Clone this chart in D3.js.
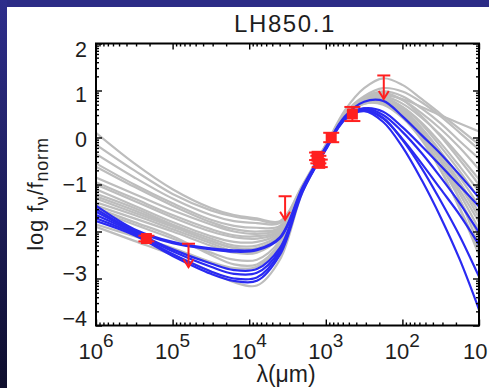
<!DOCTYPE html>
<html>
<head>
<meta charset="utf-8">
<script src="https://cdn.jsdelivr.net/npm/d3@7"></script>
<style>
  html, body { margin: 0; padding: 0; background: #fff; overflow: hidden; }
  text { font-family: "Liberation Sans", Arial, Helvetica, sans-serif; fill: #1e1e1e; }
</style>
</head>
<body>
<svg id="chart" width="489" height="388"></svg>
<script>
// Wavelength grid (micron) on which every model SED is sampled
const WAVELENGTHS = [1e6, 3.16e5, 1e5, 3.16e4, 1.58e4, 7.94e3, 3.98e3, 2.0e3, 1e3, 562, 316, 178, 100, 56.2, 31.6, 17.8, 10];

// Rejected template fits: log f_nu / f_norm on the grid above
const GREY_MODELS = [
  [ 0.10, -0.55, -1.10, -1.50, -1.65, -1.72, -1.78, -1.00, -0.15, 0.50, 0.82, 0.90, 0.82, 0.65, 0.47, 0.30, 0.13],
  [-0.15, -0.70, -1.20, -1.55, -1.68, -1.75, -1.80, -1.02, -0.16, 0.58, 1.05, 1.26, 1.12, 0.82, 0.50, 0.18, -0.15],
  [-0.35, -0.85, -1.30, -1.65, -1.78, -1.82, -1.82, -1.03, -0.17, 0.52, 0.88, 1.05, 0.98, 0.75, 0.45, 0.10, -0.26],
  [-0.55, -1.00, -1.40, -1.75, -1.88, -1.92, -1.88, -1.04, -0.18, 0.50, 0.85, 0.98, 0.88, 0.62, 0.30, -0.08, -0.45],
  [-0.62, -1.05, -1.45, -1.80, -1.95, -2.00, -1.92, -1.05, -0.18, 0.50, 0.82, 0.92, 0.80, 0.52, 0.18, -0.22, -0.68],
  [-0.85, -1.20, -1.55, -1.85, -2.00, -2.05, -1.95, -1.05, -0.19, 0.48, 0.80, 0.88, 0.72, 0.42, 0.05, -0.40, -0.89],
  [-1.00, -1.35, -1.70, -2.00, -2.12, -2.15, -2.00, -1.06, -0.19, 0.50, 0.85, 0.95, 0.80, 0.45, 0.02, -0.48, -1.00],
  [-1.10, -1.45, -1.80, -2.10, -2.22, -2.22, -2.02, -1.07, -0.20, 0.48, 0.78, 0.82, 0.65, 0.32, -0.12, -0.62, -1.15],
  [-1.20, -1.50, -1.85, -2.15, -2.30, -2.30, -2.05, -1.07, -0.20, 0.47, 0.80, 0.85, 0.65, 0.28, -0.20, -0.72, -1.30],
  [-1.30, -1.60, -1.90, -2.20, -2.35, -2.35, -2.08, -1.08, -0.21, 0.46, 0.75, 0.78, 0.58, 0.20, -0.30, -0.85, -1.45],
  [-1.38, -1.65, -1.95, -2.25, -2.42, -2.42, -2.12, -1.08, -0.21, 0.48, 0.80, 0.85, 0.62, 0.20, -0.35, -0.95, -1.60],
  [-1.45, -1.72, -2.00, -2.30, -2.45, -2.45, -2.12, -1.09, -0.22, 0.46, 0.76, 0.78, 0.55, 0.12, -0.42, -1.02, -1.70],
  [-1.55, -1.85, -2.15, -2.45, -2.60, -2.60, -2.20, -1.10, -0.22, 0.45, 0.72, 0.72, 0.48, 0.05, -0.50, -1.12, -1.80],
  [-1.85, -2.10, -2.35, -2.65, -2.78, -2.75, -2.30, -1.12, -0.23, 0.47, 0.78, 0.80, 0.55, 0.10, -0.50, -1.20, -1.95],
  [-1.90, -2.20, -2.50, -2.85, -3.08, -3.15, -2.60, -1.15, -0.24, 0.45, 0.74, 0.74, 0.48, 0.02, -0.60, -1.32, -2.10],
  [-1.25, -1.55, -1.88, -2.20, -2.35, -2.38, -2.10, -1.08, -0.21, 0.46, 0.78, 0.85, 0.62, 0.15, -0.50, -1.32, -2.30],
  [-0.95, -1.30, -1.65, -1.95, -2.08, -2.10, -1.98, -1.05, -0.19, 0.44, 0.72, 0.70, 0.42, -0.05, -0.70, -1.50, -2.40],
  [-1.50, -1.80, -2.10, -2.50, -2.70, -2.70, -2.25, -1.10, -0.22, 0.45, 0.75, 0.76, 0.50, 0.00, -0.68, -1.52, -2.50]
];

// Accepted template fits
const BLUE_MODELS = [
  [-1.45, -1.95, -2.22, -2.36, -2.40, -2.38, -2.12, -1.05, -0.20, 0.45, 0.76, 0.78, 0.45, 0.05, -0.35, -0.80, -1.28],
  [-1.52, -1.98, -2.25, -2.38, -2.43, -2.40, -2.15, -1.08, -0.22, 0.42, 0.62, 0.55, 0.22, -0.18, -0.60, -1.03, -1.47],
  [-1.58, -2.00, -2.38, -2.68, -2.82, -2.80, -2.35, -1.10, -0.22, 0.42, 0.62, 0.48, 0.12, -0.33, -0.85, -1.40, -2.02],
  [-1.65, -2.02, -2.42, -2.75, -2.90, -2.88, -2.40, -1.12, -0.24, 0.40, 0.58, 0.40, -0.03, -0.55, -1.10, -1.65, -2.28],
  [-1.72, -2.05, -2.48, -2.85, -3.00, -2.98, -2.45, -1.12, -0.25, 0.40, 0.60, 0.42, -0.05, -0.65, -1.35, -2.10, -2.96],
  [-1.78, -2.08, -2.52, -2.90, -3.05, -3.05, -2.50, -1.15, -0.26, 0.38, 0.56, 0.33, -0.20, -0.90, -1.70, -2.60, -3.66]
];

// Photometry: wavelength (micron), log flux, 1-sigma error
const DET_WL  = [2.2e5, 1.3e3, 1.25e3, 1.2e3, 850, 450];
const DET_VAL = [-2.15, -0.40, -0.47, -0.55, 0.0, 0.50];
const DET_ERR = [0.06, 0.08, 0.08, 0.08, 0.10, 0.15];

// Upper limits: wavelength (micron), log flux
const UL_WL  = [6.2e4, 3.4e3, 175];
const UL_VAL = [-2.26, -1.25, 1.32];

// Axis ticks; the last label sits on the page edge and is shown without its exponent
const X_TICKS = [1e6, 1e5, 1e4, 1e3, 1e2, 1e1];
const X_TICK_EXP = ["6", "5", "4", "3", "2", ""];
const Y_TICKS = [2, 1, 0, -1, -2, -3, -4];

const svg = d3.select("#chart");
const W = 489, H = 388;

// slide background: white panel with a dark-blue frame on top and left
const defs = svg.append("defs");
const grad = defs.append("linearGradient").attr("id", "edge").attr("x1", 0).attr("y1", 0).attr("x2", 0).attr("y2", 1);
grad.append("stop").attr("offset", "0%").attr("stop-color", "#2e2e8c");
grad.append("stop").attr("offset", "100%").attr("stop-color", "#0e0e2c");
svg.append("rect").attr("width", W).attr("height", H).attr("fill", "#ffffff");
svg.append("rect").attr("x", 0).attr("y", 0).attr("width", W).attr("height", 7).attr("fill", "#2c2c86");
svg.append("rect").attr("x", 0).attr("y", 0).attr("width", 7).attr("height", H).attr("fill", "url(#edge)");

const plot = { left: 96, right: 479, top: 43.5, bottom: 325.5 };
const x = d3.scaleLog().domain([1e6, 10]).range([plot.left, plot.right]);
const y = d3.scaleLinear().domain([-4, 2]).range([plot.bottom, plot.top]);

defs.append("clipPath").attr("id", "plotclip").append("rect")
  .attr("x", plot.left).attr("y", plot.top)
  .attr("width", plot.right - plot.left).attr("height", plot.bottom - plot.top);

const line = d3.line()
  .x((d, i) => x(WAVELENGTHS[i]))
  .y(d => y(d))
  .curve(d3.curveCatmullRom.alpha(0.5));

const curves = svg.append("g").attr("clip-path", "url(#plotclip)");
curves.selectAll("path.grey").data(GREY_MODELS).join("path")
  .attr("class", "grey").attr("d", line)
  .attr("fill", "none").attr("stroke", "#bdbdbd").attr("stroke-width", 2.2);
curves.selectAll("path.blue").data(BLUE_MODELS).join("path")
  .attr("class", "blue").attr("d", line)
  .attr("fill", "none").attr("stroke", "#2a2af2").attr("stroke-width", 2.2);

// Photometric points
const RED = "#ff2020";
const pts = svg.append("g");
const detections = DET_WL.map((wl, i) => ({ wl, v: DET_VAL[i], e: DET_ERR[i] }));
detections.forEach(d => {
  const cx = x(d.wl), cy = y(d.v);
  const g = pts.append("g").attr("stroke", RED).attr("stroke-width", 2);
  g.append("line").attr("x1", cx).attr("x2", cx).attr("y1", y(d.v - d.e)).attr("y2", y(d.v + d.e));
  [d.v - d.e, d.v + d.e].forEach(v => g.append("line")
    .attr("x1", cx - 8).attr("x2", cx + 8).attr("y1", y(v)).attr("y2", y(v)));
  pts.append("rect").attr("x", cx - 5.5).attr("y", cy - 5.5).attr("width", 11).attr("height", 11).attr("fill", RED);
});

const limits = UL_WL.map((wl, i) => ({ wl, v: UL_VAL[i] }));
limits.forEach(d => {
  const cx = x(d.wl), top = y(d.v), tip = y(d.v - 0.5);
  const g = pts.append("g").attr("stroke", RED).attr("stroke-width", 2).attr("fill", "none");
  g.append("line").attr("x1", cx - 6.5).attr("x2", cx + 6.5).attr("y1", top).attr("y2", top);
  g.append("line").attr("x1", cx).attr("x2", cx).attr("y1", top).attr("y2", tip);
  g.append("path").attr("d", `M${cx - 5},${tip - 8}L${cx},${tip}L${cx + 5},${tip - 8}`);
});

// Axes: inward ticks on all four sides
const xMinor = [];
for (let e = 1; e < 6; e++) for (let k = 2; k <= 9; k++) xMinor.push(k * Math.pow(10, e));
const yMinor = [];
for (let n = -4; n < 2; n++) for (let k = 2; k <= 9; k++) yMinor.push(n + Math.log10(k));

function styleAxis(g) {
  g.select(".domain").remove();
  g.selectAll("line").attr("stroke", "#000").attr("stroke-width", 1.4);
}
const axes = svg.append("g");
axes.append("g").attr("transform", `translate(0,${plot.bottom})`)
  .call(d3.axisBottom(x).tickValues(X_TICKS).tickSize(-6).tickFormat("")).call(styleAxis);
axes.append("g").attr("transform", `translate(0,${plot.bottom})`)
  .call(d3.axisBottom(x).tickValues(xMinor).tickSize(-3).tickFormat("")).call(styleAxis);
axes.append("g").attr("transform", `translate(0,${plot.top})`)
  .call(d3.axisTop(x).tickValues(X_TICKS).tickSize(-6).tickFormat("")).call(styleAxis);
axes.append("g").attr("transform", `translate(0,${plot.top})`)
  .call(d3.axisTop(x).tickValues(xMinor).tickSize(-3).tickFormat("")).call(styleAxis);
axes.append("g").attr("transform", `translate(${plot.left},0)`)
  .call(d3.axisLeft(y).tickValues(Y_TICKS).tickSize(-6).tickFormat("")).call(styleAxis);
axes.append("g").attr("transform", `translate(${plot.left},0)`)
  .call(d3.axisLeft(y).tickValues(yMinor).tickSize(-3).tickFormat("")).call(styleAxis);
axes.append("g").attr("transform", `translate(${plot.right},0)`)
  .call(d3.axisRight(y).tickValues(Y_TICKS).tickSize(-6).tickFormat("")).call(styleAxis);
axes.append("g").attr("transform", `translate(${plot.right},0)`)
  .call(d3.axisRight(y).tickValues(yMinor).tickSize(-3).tickFormat("")).call(styleAxis);

axes.append("rect")
  .attr("x", plot.left).attr("y", plot.top)
  .attr("width", plot.right - plot.left).attr("height", plot.bottom - plot.top)
  .attr("fill", "none").attr("stroke", "#000").attr("stroke-width", 2);

// Tick labels
const xl = svg.append("g");
X_TICKS.forEach((t, i) => {
  const edge = X_TICK_EXP[i] === "";
  const tx = xl.append("text").attr("x", edge ? 487.5 : x(t)).attr("y", 359)
    .attr("text-anchor", edge ? "end" : "middle").style("font-size", "22px");
  tx.append("tspan").text("10");
  if (!edge) tx.append("tspan").attr("dy", -12).style("font-size", "19px").text(X_TICK_EXP[i]);
});
const yl = svg.append("g");
Y_TICKS.forEach(t => {
  yl.append("text").attr("x", 87).attr("y", y(t) + (t + 1) * 2.2)
    .attr("text-anchor", "end").attr("dominant-baseline", "central")
    .style("font-size", "21.5px")
    .text(t < 0 ? "\u2212" + Math.abs(t) : String(t));
});

// Titles
svg.append("text").attr("x", 285).attr("y", 32).attr("text-anchor", "middle")
  .style("font-size", "24px").style("letter-spacing", "1.6px").text("LH850.1");

svg.append("text").attr("x", 286).attr("y", 382).attr("text-anchor", "middle")
  .style("font-size", "23px").text("\u03bb(\u03bcm)");

const yt = svg.append("text").attr("transform", "translate(43,194) rotate(-90)")
  .attr("text-anchor", "middle").style("font-size", "22px").style("letter-spacing", "0.8px");
yt.append("tspan").text("log f");
yt.append("tspan").attr("dy", 5).style("font-size", "18px").text("\u03bd");
yt.append("tspan").attr("dy", -5).text("/f");
yt.append("tspan").attr("dy", 5).style("font-size", "18px").text("norm");
</script>
</body>
</html>
